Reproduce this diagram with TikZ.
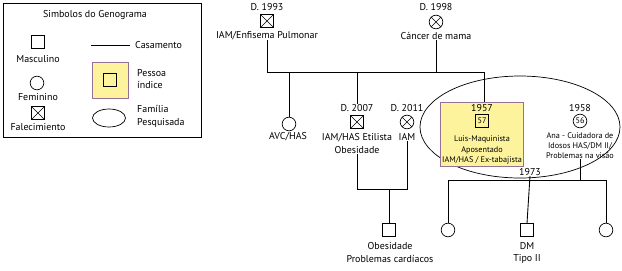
\documentclass[tikz,border=0pt]{standalone}
\usepackage{fontspec}
\setmainfont{PT Sans}
\usetikzlibrary{shapes.geometric}

\definecolor{IdxYellow}{HTML}{FCF39C}
\definecolor{IdxPurple}{HTML}{957196}

\begin{document}
\begin{tikzpicture}[x=0.03cm, y=-0.03cm, font=\fontsize{8.5}{11}\selectfont,
  male/.style={draw, rectangle, minimum size=0.39cm, inner sep=0pt, line width=0.6pt},
  female/.style={draw, circle, minimum size=0.41cm, inner sep=0pt, line width=0.6pt},
  dead/.style={path picture={\draw[line width=0.4pt]
      (path picture bounding box.north west) -- (path picture bounding box.south east)
      (path picture bounding box.north east) -- (path picture bounding box.south west);}},
  txt/.style={inner sep=0pt, align=center},
  small/.style={font=\fontsize{7}{8.6}\selectfont},
  index/.style={draw=IdxPurple, fill=IdxYellow, line width=0.8pt},
  link/.style={line width=0.75pt}]
  \useasboundingbox (0,0) rectangle (622,270);

  % legend
  \draw[line width=0.7pt] (3,3) rectangle (201,137);
  \node[txt] (legtitle) at (95,15) {Simbolos do Genograma};
  \node[male] (lgmale) at (38,42) {};
  \node[txt] (lgmalet) at (38,59) {Masculino};
  \node[female] (lgfem) at (37,83) {};
  \node[txt] (lgfemt) at (38,97) {Feminino};
  \node[male, dead] (lgdead) at (38,113) {};
  \node[txt] (lgdeadt) at (38,127) {Falecimiento};
  \coordinate (lgm1) at (91,45);
  \coordinate (lgm2) at (130,45);
  \draw[link] (lgm1) -- (lgm2);
  \node[txt, anchor=west] (lgmt) at (135,45) {Casamento};
  \node[index, minimum size=1.08cm] (lgidx) at (110,80) {};
  \node[male] (lgidxin) at (110,80) {};
  \node[txt, anchor=west, align=left] (lgidxt) at (137,79) {Pessoa\\índice};
  \node[draw, ellipse, minimum width=0.99cm, minimum height=0.54cm,
        line width=0.6pt] (lgfam) at (109,118) {};
  \node[txt, anchor=west, align=left] (lgfamt) at (137,116) {Família\\Pesquisada};

  % grandparents
  \node[male, dead] (gf) at (267,21) {};
  \node[txt] (gfd) at (267,7) {D. 1993};
  \node[txt] (gft) at (267,36) {IAM/Enfisema Pulmonar};
  \node[female, dead] (gm) at (436,22) {};
  \node[txt] (gmd) at (436,7) {D. 1998};
  \node[txt] (gmt) at (436,36) {Cáncer de mama};

  % second generation
  \node[female] (aunt) at (289,124) {};
  \node[txt] (auntt) at (288,137) {AVC/HAS};
  \node[male, dead] (unc) at (357,122) {};
  \node[txt] (uncd) at (357,108) {D. 2007};
  \node[txt] (unct) at (357,143.5) {IAM/HAS Etilista\\Obesidade};
  \node[female, dead] (aw) at (407,122) {};
  \node[txt] (awd) at (407,108) {D. 2011};
  \node[txt] (awt) at (407,137) {IAM};
  \node[male] (cous) at (389,230) {};
  \node[txt] (coust) at (390,252.5) {Obesidade\\Problemas cardíacos};

  % family under study
  \node[draw, ellipse, minimum width=6cm, minimum height=3.06cm,
        line width=0.6pt] (fam) at (520,127) {};
  \node[index, minimum width=2.49cm, minimum height=1.92cm] (luis) at (481.5,134) {};
  \node[txt] (luisy) at (482,108) {1957};
  \node[male, small] (luisq) at (482,121) {57};
  \node[txt, small] (luist) at (482,150) {Luis-Maquinista\\Aposentado\\IAM/HAS / Ex-tabajista};
  \node[txt] (anay) at (580,108) {1958};
  \node[female, small] (ana) at (580,121) {56};
  \node[txt, small] (anat) at (580,145.5) {Ana - Cuidadora de\\Idosos HAS/DM II/\\Problemas na visão};
  \node[txt] (yr) at (530,172) {1973};
  \node[female] (c1) at (448,230) {};
  \node[male] (c2) at (527,230) {};
  \node[txt] (c2t) at (527,253) {DM\\Tipo II};
  \node[female] (c3) at (606,230) {};

  % connectors
  \coordinate (mar1) at (267,72);
  \coordinate (mar2) at (484,72);
  \draw[link] (gft.south) -- (mar1) -- (mar2) -- (luis.north -| mar2);
  \draw[link] (gmt.south) -- (gmt.south |- mar1);
  \draw[link] (aunt.north) -- (aunt.north |- mar1);
  \draw[link] (uncd.north) -- (uncd.north |- mar1);
  \coordinate (cousl) at (389,189);
  \draw[link] (unct.south) -- (unct.south |- cousl) -| (awt.south);
  \draw[link] (cousl) -- (cous.north);
  \coordinate (sib) at (527,180);
  \draw[link] (c1.north) |- (c3.north |- sib) -- (c3.north);
  \draw[link] (yr.south) -- (c2.north);
  \draw[link] (anat.south) -- (anat.south |- sib);
\end{tikzpicture}
\end{document}
